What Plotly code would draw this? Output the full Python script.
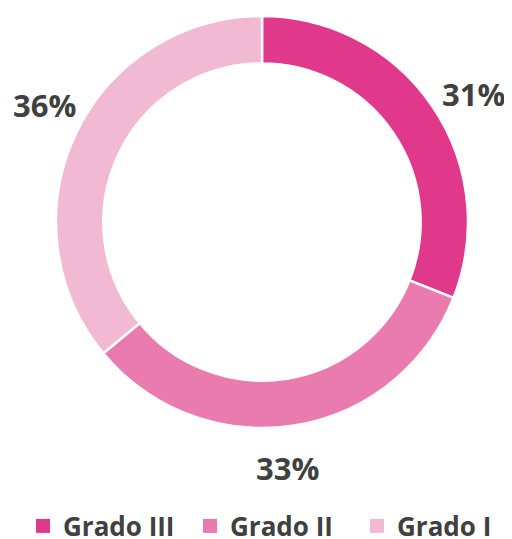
import math
import plotly.graph_objects as go

# datos del gráfico
grados = ['Grado III', 'Grado II', 'Grado I']
valores = [31, 33, 36]
colores = ['#E0388A', '#EA7BAE', '#F2B9D3']

W, H = 512, 539
# la página añade 8px de margen al cuerpo, se compensa aquí
cx, cy, radio = 254, 214, 206
radio_etiqueta = 247
desfase = math.radians(3)

fig = go.Figure()

fig.add_trace(go.Pie(
    labels=grados,
    values=valores,
    hole=0.77,
    sort=False,
    direction='clockwise',
    rotation=0,
    marker=dict(colors=colores, line=dict(color='white', width=2.5)),
    textinfo='none',
    hoverinfo='label+percent',
    showlegend=False,
    domain=dict(x=[(cx - radio) / W, (cx + radio) / W],
                y=[1 - (cy + radio) / H, 1 - (cy - radio) / H]),
))

# entradas de leyenda con cuadrados del tamaño del original
for g, c in zip(grados, colores):
    fig.add_trace(go.Scatter(
        x=[None], y=[None], mode='markers', name=g,
        marker=dict(symbol='square', size=14, color=c),
        hoverinfo='skip',
    ))

# etiquetas de porcentaje junto al ángulo medio de cada sector
total = sum(valores)
acum = 0
for v in valores:
    ang = 2 * math.pi * (acum + v / 2) / total + desfase
    acum += v
    px = cx + radio_etiqueta * math.sin(ang)
    py = cy - radio_etiqueta * math.cos(ang)
    fig.add_annotation(
        x=px / W, y=1 - py / H, xref='paper', yref='paper',
        text=f'{round(100 * v / total)}%', showarrow=False,
        xanchor='center', yanchor='middle',
        font=dict(family='Open Sans', size=31, color='#404040', weight='bold'),
    )

fig.update_layout(
    width=W,
    height=H,
    margin=dict(l=0, r=0, t=0, b=0, autoexpand=False),
    paper_bgcolor='white',
    plot_bgcolor='white',
    showlegend=True,
    xaxis=dict(visible=False),
    yaxis=dict(visible=False),
    legend=dict(
        orientation='h',
        x=15 / W, xanchor='left',
        y=1 - 518 / H, yanchor='middle',
        entrywidth=122,
        font=dict(family='Open Sans', size=26, color='#404040', weight='bold'),
    ),
)

fig.write_html("out.html")
